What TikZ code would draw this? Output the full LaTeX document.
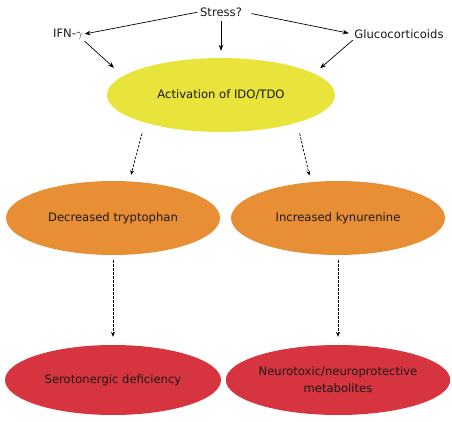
\documentclass[tikz,border=0pt]{standalone}
\usepackage{fontspec}
\setmainfont{DejaVu Sans}
\usetikzlibrary{shapes.geometric,arrows.meta}
\definecolor{cyellow}{RGB}{232,228,60}
\definecolor{corange}{RGB}{232,142,52}
\definecolor{cred}{RGB}{214,52,62}
\definecolor{ctext}{RGB}{25,25,25}
\tikzset{
  lbl/.style={font=\fontsize{11.6}{13}\selectfont, text=ctext, inner sep=1.5pt},
  oval/.style={ellipse, inner sep=0pt, font=\fontsize{11.6}{17}\selectfont, text=ctext, align=center},
  solidarrow/.style={-{Stealth[length=6pt,width=4.5pt]}, line width=0.7pt, black},
  dasharrow/.style={-{Stealth[length=5pt,width=4pt]}, line width=0.7pt, black, dash pattern=on 2.5pt off 1.5pt}
}
\begin{document}
\begin{tikzpicture}[x=1pt,y=-1pt]
\useasboundingbox (0,0) rectangle (452,422);
\node[lbl] (stress) at (221,12) {Stress?};
\node[lbl] (ifn) at (68,34) {IFN-$\gamma$};
\node[lbl] (gluco) at (399,34) {Glucocorticoids};
\node[oval, fill=cyellow, minimum width=228pt, minimum height=74pt] (ido) at (221,95) {Activation of IDO/TDO};
\node[oval, fill=corange, minimum width=214pt, minimum height=74pt] (trp) at (113,218) {Decreased tryptophan};
\node[oval, fill=corange, minimum width=214pt, minimum height=74pt] (kyn) at (338,218) {Increased kynurenine};
\node[oval, fill=cred, minimum width=216pt, minimum height=70pt] (sero) at (113,380) {Serotonergic deficiency};
\node[oval, fill=cred, minimum width=218pt, minimum height=70pt] (neuro) at (338,380) {Neurotoxic/neuroprotective\\metabolites};
\draw[solidarrow, shorten <=1pt] (stress.west) -- (ifn.east);
\draw[solidarrow, shorten <=8pt, shorten >=4pt] (stress.east) -- (gluco.west);
\draw[solidarrow, shorten >=7pt, shorten <=3pt] (stress.south) -- (ido.north);
\draw[solidarrow, shorten >=12pt] (ifn.south east) -- (ido.169);
\draw[solidarrow, shorten >=8pt] (gluco.south west) -- (ido.13);
\draw[dasharrow, shorten <=11pt, shorten >=6.5pt] (ido.200) -- (trp.66);
\draw[dasharrow, shorten <=11pt, shorten >=6.5pt] (ido.340) -- (kyn.127);
\draw[dasharrow, shorten <=5pt, shorten >=8pt] (trp.south) -- (sero.north);
\draw[dasharrow, shorten <=5pt, shorten >=8pt] (kyn.south) -- (neuro.north);
\end{tikzpicture}
\end{document}
